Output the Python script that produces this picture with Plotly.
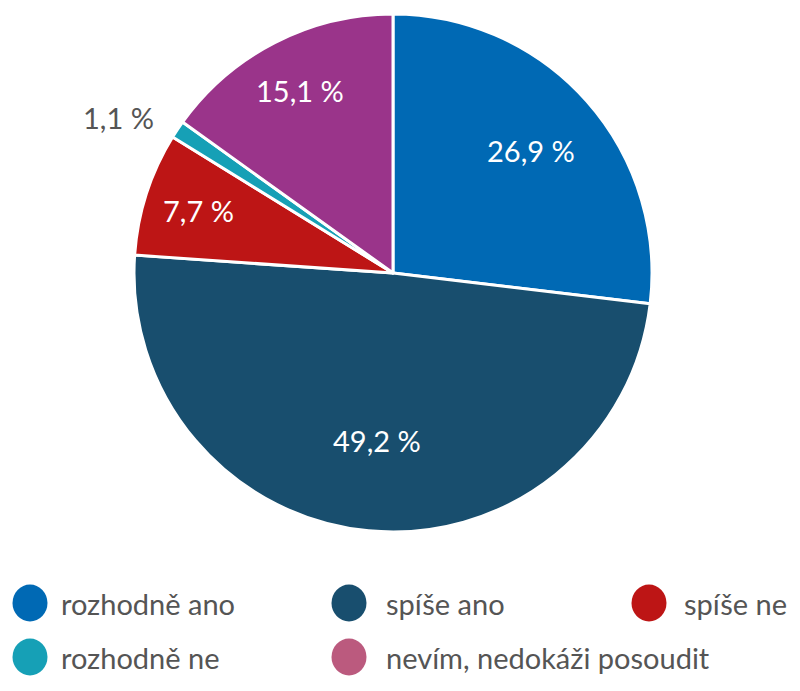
import math
import plotly.graph_objects as go

categories = ["rozhodně ano", "spíše ano", "spíše ne", "rozhodně ne", "nevím, nedokáži posoudit"]
values = [26.9, 49.2, 7.7, 1.1, 15.1]
slice_colors = ["#0069b4", "#184e6e", "#bd1515", "#16a0b6", "#9a348a"]
legend_colors = ["#0069b4", "#184e6e", "#bd1515", "#16a0b6", "#bb5a7e"]

FONT = "Lato"
# page body has an 8 px margin, so the figure is sized to fit the window
W, H = 792, 683
OFF = 8

# pie geometry (pixels in the page)
CX, CY, R = 393 - OFF, 273 - OFF, 259
# radial position of each label as a fraction of the radius (None = outside label)
label_r = [0.71, 0.65, 0.79, None, 0.79]


def fmt(v):
    return f"{v:.1f}".replace(".", ",") + " %"


fig = go.Figure()
fig.add_trace(go.Pie(
    labels=categories,
    values=values,
    textinfo="none",
    sort=False,
    direction="clockwise",
    rotation=0,
    marker=dict(colors=slice_colors, line=dict(color="white", width=3)),
    showlegend=False,
    hoverinfo="label+percent",
    domain=dict(x=[(CX - R) / W, (CX + R) / W], y=[1 - (CY + R) / H, 1 - (CY - R) / H]),
))

annotations = []
total = sum(values)
cum = 0.0
for v, fr in zip(values, label_r):
    mid = (cum + v / 2) / total * 2 * math.pi
    cum += v
    if fr is None:
        continue
    px = CX + fr * R * math.sin(mid)
    py = CY - fr * R * math.cos(mid)
    annotations.append(dict(
        x=px / W, y=1 - py / H, xref="paper", yref="paper",
        text=fmt(v), showarrow=False, xanchor="center", yanchor="middle",
        font=dict(family=FONT, size=29, color="white"),
    ))

# outside label for the small slice
for v, fr in zip(values, label_r):
    if fr is None:
        annotations.append(dict(
            x=(118 - OFF) / W, y=1 - (118 - OFF) / H, xref="paper", yref="paper",
            text=fmt(v), showarrow=False,
            font=dict(family=FONT, size=29, color="#555555"),
            xanchor="center", yanchor="middle",
        ))

# custom legend (circle centre x, text start x, row y) in page pixels
legend_pos = [(30, 59, 603), (349, 384, 603), (649, 682, 603), (30, 59, 657), (349, 384, 657)]
shapes = []
for (cx, tx, cy), name, col in zip(legend_pos, categories, legend_colors):
    cx, tx, cy = cx - OFF, tx - OFF, cy - OFF
    shapes.append(dict(
        type="circle", xref="paper", yref="paper",
        x0=(cx - 17.5) / W, x1=(cx + 17.5) / W,
        y0=1 - (cy + 18.5) / H, y1=1 - (cy - 18.5) / H,
        fillcolor=col, line=dict(width=0),
    ))
    annotations.append(dict(
        x=tx / W, y=1 - cy / H, xref="paper", yref="paper",
        text=name, showarrow=False, xanchor="left", yanchor="middle",
        font=dict(family=FONT, size=29, color="#555555"),
    ))

fig.update_layout(
    width=W, height=H,
    margin=dict(l=0, r=0, t=0, b=0),
    paper_bgcolor="white", plot_bgcolor="white",
    shapes=shapes, annotations=annotations,
    showlegend=False,
)

fig.write_html("out.html")
